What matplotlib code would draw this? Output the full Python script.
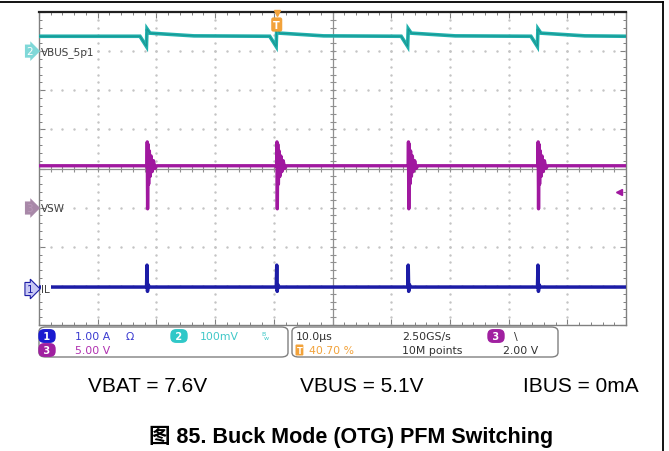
import numpy as np
import matplotlib.pyplot as plt
from matplotlib.patches import FancyBboxPatch
from matplotlib.lines import Line2D

W, H = 669, 452

# scope screen is 10 x 8 divisions (10 us/div), values in divisions
spike_t = [1.84, 4.05, 6.29, 8.50]

vbus_base = 7.38
vbus_dt = [-0.12, -0.01, 0.0, 0.05, 0.8]
vbus_v = [7.38, 7.12, 7.57, 7.46, 7.39]

vsw_base = 4.07
vsw_dt = [0.0, 0.004, 0.010, 0.018, 0.028, 0.040, 0.054, 0.070, 0.088, 0.11, 0.135, 0.165]
vsw_v = [4.07, 4.68, 2.97, 4.62, 3.6, 4.45, 3.8, 4.32, 3.92, 4.2, 4.0, 4.07]

il_base = 0.97
il_dt = [-0.008, 0.0, 0.008, 0.02, 0.04]
il_v = [0.97, 1.53, 0.86, 1.03, 0.97]

trig_level = 3.40

cond_labels = ["VBAT = 7.6V", "VBUS = 5.1V", "IBUS = 0mA"]
caption = "图 85. Buck Mode (OTG) PFM Switching"

CYAN = "#1fb0ac"
MAG = "#a0189f"
BLUE = "#1c1ca6"
ORANGE = "#f2a23a"
GRID = "#c4c4c4"


def build(base, dts, vs):
    xs, ys = [0.0], [base]
    for t in spike_t:
        xs += [t + d for d in dts]
        ys += vs
    xs.append(10.0)
    ys.append(base)
    return xs, ys


def fx(px):
    return px / W


def fy(py):
    return 1 - py / H


fig = plt.figure(figsize=(W / 100, H / 100), dpi=100)
ax = fig.add_axes([fx(39), fy(326), (626 - 39) / W, (326 - 13) / H])
ax.set_xlim(0, 10)
ax.set_ylim(0, 8)

# graticule
for gx in range(1, 10):
    if gx == 5:
        continue
    ax.plot([gx] * 41, np.linspace(0, 8, 41), ls="none", marker="s", ms=0.7, color=GRID)
for gy in range(1, 8):
    if gy == 4:
        continue
    ax.plot(np.linspace(0, 10, 51), [gy] * 51, ls="none", marker="s", ms=0.7, color=GRID)
ax.axvline(5, color="#909090", lw=0.9)
ax.axhline(4, color="#909090", lw=0.9)
ax.plot([5] * 41, np.linspace(0, 8, 41), ls="none", marker="_", ms=5, color="#909090", mew=0.8)
ax.plot(np.linspace(0, 10, 51), [4] * 51, ls="none", marker="|", ms=5, color="#909090", mew=0.8)

ax.set_xticks(range(11))
ax.set_yticks(range(9))
ax.set_xticks(np.linspace(0, 10, 51), minor=True)
ax.set_yticks(np.linspace(0, 8, 41), minor=True)
ax.tick_params(which="both", direction="in", top=True, right=True,
               labelbottom=False, labelleft=False, color="#808080")
ax.tick_params(which="major", length=4, width=0.8)
ax.tick_params(which="minor", length=2.5, width=0.7)
for s in ["left", "right", "bottom"]:
    ax.spines[s].set_color("#808080")
    ax.spines[s].set_linewidth(1.0)
ax.spines["top"].set_color("#202020")
ax.spines["top"].set_linewidth(1.6)

# traces
x, y = build(vbus_base, vbus_dt, vbus_v)
ax.plot(x, y, color=CYAN, lw=2.6, solid_joinstyle="miter", zorder=5)
ax.plot(x, y, color="#147c78", lw=0.6, alpha=0.6, zorder=5)
x, y = build(vsw_base, vsw_dt, vsw_v)
ax.plot(x, y, color=MAG, lw=2.4, zorder=5)
x, y = build(il_base, il_dt, il_v)
ax.plot(x, y, color=BLUE, lw=2.5, zorder=5)

# channel markers
ax.text(-0.1, 7.0, "2", color="white", fontsize=7.5, ha="right", va="center", clip_on=False,
        bbox=dict(boxstyle="rarrow,pad=0.15", fc="#7fd8d8", ec="none"))
ax.text(0.04, 7.0, "VBUS_5p1", color="#404040", fontsize=7.5, va="center", zorder=6)
ax.text(-0.1, 2.99, "3", color="#b898b8", fontsize=7.5, ha="right", va="center", clip_on=False,
        bbox=dict(boxstyle="rarrow,pad=0.15", fc="#a888a8", ec="none"))
ax.text(0.04, 2.99, "VSW", color="#404040", fontsize=7.5, va="center", zorder=6)
ax.text(-0.1, 0.92, "1", color=BLUE, fontsize=7.5, ha="right", va="center", clip_on=False,
        bbox=dict(boxstyle="rarrow,pad=0.15", fc="#c8c8f4", ec=BLUE, lw=0.8))
ax.text(0.04, 0.92, "IL", color="#404040", fontsize=7.5, va="center", zorder=6,
        bbox=dict(boxstyle="square,pad=0.05", fc="white", ec="none"))

# trigger markers
ax.text(spike_t[1], 7.68, "T", color="white", fontsize=7, fontweight="bold", ha="center",
        va="center", zorder=7, bbox=dict(boxstyle="round,pad=0.22", fc=ORANGE, ec="none"))
ax.plot([spike_t[1]], [7.98], marker="v", ms=4, color=ORANGE, clip_on=False, zorder=7)
ax.plot([9.88], [trig_level], marker="<", ms=5, color=MAG, zorder=7)

# info boxes
for x0, x1 in [(39, 288), (292, 558)]:
    fig.patches.append(FancyBboxPatch((fx(x0), fy(358)), fx(x1 - x0), (358 - 328) / H,
                                      boxstyle="round,pad=0,rounding_size=0.01",
                                      transform=fig.transFigure, fc="none", ec="#808080", lw=1.0))


def badge(px, py, s, fc):
    fig.text(fx(px), fy(py), s, color="white", fontsize=7, fontweight="bold",
             ha="center", va="center", bbox=dict(boxstyle="round,pad=0.2,rounding_size=0.6",
                                                 fc=fc, ec="none"))


r1, r2 = 337, 351
badge(47, r1, " 1 ", "#1a1ad0")
fig.text(fx(75), fy(r1), "1.00 A", color="#3a3ad0", fontsize=7.8, va="center")
fig.text(fx(126), fy(r1), "Ω", color="#3a3ad0", fontsize=7.8, va="center")
badge(179, r1, " 2 ", "#30c8c8")
fig.text(fx(200), fy(r1), "100mV", color="#40c8c8", fontsize=7.8, va="center")
fig.text(fx(261), fy(r1 - 2), "B", color="#40c8c8", fontsize=4.5, va="center")
fig.text(fx(264), fy(r1 + 2), "w", color="#40c8c8", fontsize=4.5, va="center")
badge(47, r2, " 3 ", "#a020a0")
fig.text(fx(75), fy(r2), "5.00 V", color="#b030b0", fontsize=7.8, va="center")

fig.text(fx(296), fy(r1), "10.0µs", color="#303030", fontsize=7.8, va="center")
fig.text(fx(296.5), fy(r2), "T", color="white", fontsize=6, fontweight="bold", va="center",
         bbox=dict(boxstyle="round,pad=0.12", fc=ORANGE, ec="none"))
fig.text(fx(309), fy(r2), "40.70 %", color=ORANGE, fontsize=7.8, va="center")
fig.text(fx(402), fy(r1), "2.50GS/s", color="#303030", fontsize=7.8, va="center")
fig.text(fx(402), fy(r2), "10M points", color="#303030", fontsize=7.8, va="center")
badge(496, r1, " 3 ", "#a020a0")
fig.text(fx(514), fy(r1), "\\", color="#303030", fontsize=7.8, va="center")
fig.text(fx(503), fy(r2), "2.00 V", color="#303030", fontsize=7.8, va="center")

# conditions and caption
for lab, px in zip(cond_labels, [148, 362, 581]):
    fig.text(fx(px), fy(387), lab, fontsize=15, family="Liberation Sans", ha="center", va="center")
fig.text(fx(351), fy(437), caption, fontsize=15.5, fontweight="bold",
         family=["Liberation Sans", "Noto Sans CJK SC"], ha="center", va="center")

# page frame
fig.add_artist(Line2D([0, fx(663)], [fy(3), fy(3)], color="black", lw=1.3, transform=fig.transFigure))
fig.add_artist(Line2D([fx(663), fx(663)], [fy(3), 0], color="black", lw=1.3, transform=fig.transFigure))

fig.savefig("out.png", dpi=100)
